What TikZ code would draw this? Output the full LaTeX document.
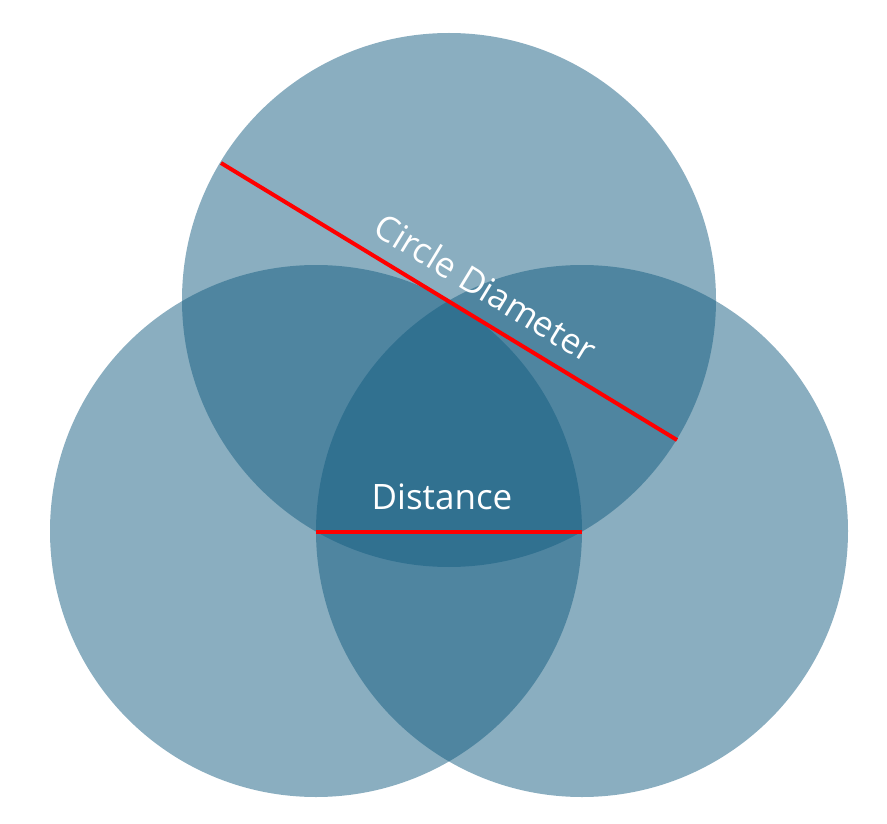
\documentclass[tikz,border=0pt]{standalone}
\usepackage{fontspec}
\setmainfont{Open Sans}
\definecolor{circblue}{RGB}{21,93,129}
\definecolor{pured}{RGB}{255,0,0}
\begin{document}
\begin{tikzpicture}[x=1pt,y=-1pt,
  venn/.style={fill=circblue,fill opacity=0.5},
  redline/.style={draw=pured,line width=4pt},
  lbl/.style={text=white,font=\fontsize{35}{42}\selectfont,inner sep=0pt,anchor=base}]
\useasboundingbox (0,0) rectangle (887,824);
\fill[venn] (449,300) circle[radius=267pt];
\fill[venn] (316,531) circle[radius=266pt];
\fill[venn] (582,531) circle[radius=266pt];
\coordinate (d1) at (221,163);
\coordinate (d2) at (677,440);
\coordinate (s1) at (316,532);
\coordinate (s2) at (582,532);
\draw[redline] (d1) -- (d2);
\draw[redline] (s1) -- (s2);
\node[lbl,rotate=-31.28] (cd) at (479,299) {Circle Diameter};
\node[lbl] (dist) at (442,509) {Distance};
\end{tikzpicture}
\end{document}
